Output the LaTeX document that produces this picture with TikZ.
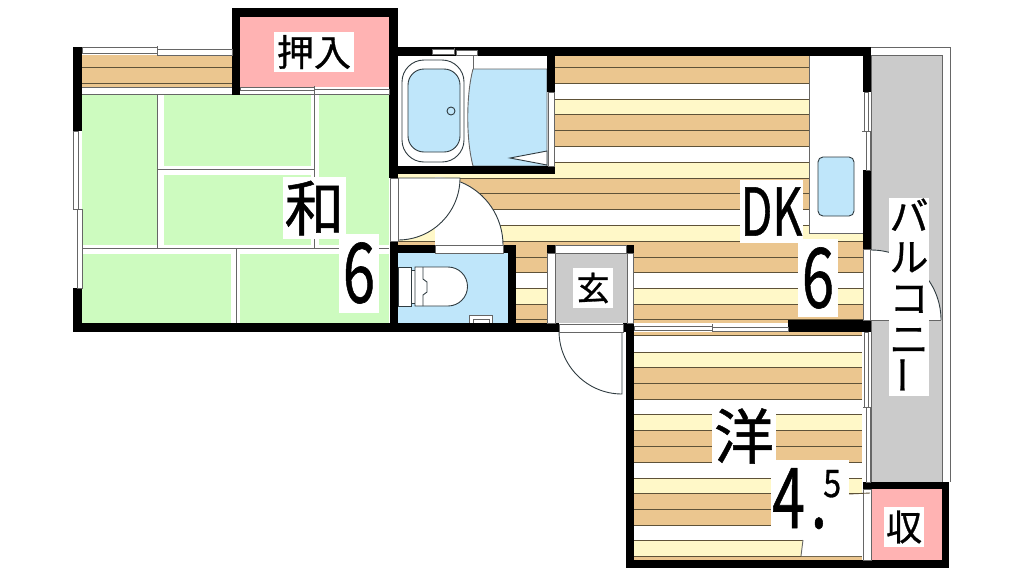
\documentclass[tikz,border=0pt]{standalone}
\usepackage{graphicx}
\usepackage{fontspec}
\setmainfont[FakeBold=0.8]{Noto Sans CJK JP}
\definecolor{woodtan}{HTML}{EBC68F}
\definecolor{woodcream}{HTML}{FFF8C8}
\definecolor{woodline}{HTML}{5E5238}
\definecolor{tatami}{HTML}{CDFBBF}
\definecolor{closetpink}{HTML}{FFB3B3}
\definecolor{waterblue}{HTML}{BFE6FA}
\definecolor{floorgray}{HTML}{CBCBCB}
\definecolor{thingray}{HTML}{666666}
\definecolor{fixline}{HTML}{2F3B40}
\newcommand{\tallnum}[1]{\scalebox{.7}[1]{#1}}
\tikzset{
  pane/.style={draw=thingray,line width=.8pt,fill=white},
  thin line/.style={draw=thingray,line width=.9pt},
  wood line/.style={draw=woodline,line width=.9pt},
  fixture/.style={draw=fixline,line width=.9pt},
  label box/.style={fill=white,inner sep=0pt,align=center},
}
\begin{document}
\begin{tikzpicture}[x=1pt,y=-1pt]
\useasboundingbox (0,0) rectangle (1024,576);
% tatami room
\fill[tatami] (82,95) rectangle (389,323);
\fill[white] (157,95) rectangle (164,248);
\fill[white] (311,95) rectangle (319,248);
\fill[white] (157,166) rectangle (314,175);
\fill[white] (82,245) rectangle (389,254);
\fill[white] (231,248) rectangle (240,323);
\draw[thin line] (157,95) -- (157,248);
\draw[thin line] (314,95) -- (314,248);
\draw[thin line] (157,169) -- (314,169);
\draw[thin line] (82,248) -- (389,248);
\draw[thin line] (236,248) -- (236,323);
\fill[woodtan] (82,55) rectangle (232,87);
\draw[wood line] (82,67) -- (232,67);
\draw[wood line] (82,83) -- (232,83);
\draw[thin line] (82,87) -- (232,87);
\draw[thin line] (82,94) -- (389,94);
% wood floor of the dining kitchen
\begin{scope}
\clip (555,56) -- (809,56) -- (809,233) -- (863,233) -- (863,323) -- (398,323) -- (398,174) -- (555,174) -- cycle;
\foreach \ya/\yb/\bandcol in {56/83/woodtan,83/99/white,99/114/woodcream,114/146/woodtan,146/162/white,162/178/woodcream,178/209/woodtan,209/225/white,225/241/woodcream,241/272/woodtan,272/288/white,288/304/woodcream,304/323/woodtan}{
  \fill[\bandcol] (398,\ya) rectangle (863,\yb);
}
\foreach \y in {67,83,99,114,130,146,162,178,193,209,225,241,257,272,288,304,319}{
  \draw[wood line] (398,\y) -- (863,\y);
}
\end{scope}
% wood floor of the lower room
\begin{scope}
\clip (634,332) rectangle (862,560);
\foreach \ya/\yb/\bandcol in {332/335/woodtan,335/352/white,352/367/woodcream,367/399/woodtan,399/414/white,414/430/woodcream,430/462/woodtan,462/478/white,478/493/woodcream,493/525/woodtan,525/540/white,540/556/woodcream,556/560/woodtan}{
  \fill[\bandcol] (634,\ya) rectangle (862,\yb);
}
\foreach \y in {335,352,367,383,399,414,430,446,462,478,493,509,525,540,556}{
  \draw[wood line] (634,\y) -- (862,\y);
}
\end{scope}
% closets
\fill[closetpink] (240,17) rectangle (389,87);
\fill[closetpink] (871,489) rectangle (942,560);
% kitchen counter and sink
\fill[white] (809,56) rectangle (863,233);
\draw[thin line] (809,56) -- (809,233) -- (863,233);
\draw[fixture,fill=waterblue,rounded corners=5pt] (818,157) rectangle (854,216);
% bath
\fill[white] (398,56) rectangle (547,166);
\draw[thin line,fill=waterblue] (473,69) -- (547,69) -- (547,166) -- (473,166) .. controls (466,140) and (466,95) .. (473,69);
\draw[thin line] (473,56) -- (473,69);
\draw[fixture,fill=white,rounded corners=22pt] (402,60) rectangle (464,162);
\draw[fixture,fill=waterblue,rounded corners=16pt] (408,69) rectangle (460,152);
\draw[fixture] (451,111) circle [radius=4pt];
\draw[fixture,fill=white] (510,158) -- (547,151) -- (547,165) -- cycle;
% toilet
\fill[waterblue] (398,253) rectangle (508,323);
\draw[fixture,fill=white] (398,267) rectangle (411,306);
\draw[fixture,fill=white] (411,270) rectangle (415,303);
\draw[fixture,fill=white] (415,267) -- (448,267) arc [start angle=90,end angle=-90,radius=19.5pt] -- (415,306) -- cycle;
\draw[fixture] (423,267) -- (423,279) -- (427,282) -- (427,292) -- (423,295) -- (423,306);
\draw[thin line,fill=white] (469,315) rectangle (492,323);
\draw[thin line] (473,323) -- (473,319) -- (489,319) -- (489,323);
% entrance
\fill[floorgray] (555,253) rectangle (627,323);
% balcony
\draw[thin line] (871,47.5) -- (950,47.5) -- (950,482);
\draw[thin line,fill=floorgray] (871,55) -- (942,55) -- (942,482) -- (871,482) -- cycle;
% doors
\fill[white] (435,245) -- (503,245) arc [start angle=0,end angle=90,radius=68pt] -- cycle;
\draw[fixture] (503,245) arc [start angle=0,end angle=68,radius=68pt];
\draw[fixture,fill=white] (460,178) arc [start angle=0,end angle=-90,radius=62pt] -- (398,178) -- cycle;
\draw[fixture,fill=white] (622,394) arc [start angle=-90,end angle=-180,radius=63pt] -- (622,332) -- cycle;
\fill[white] (871,320) -- (941,320) arc [start angle=0,end angle=90,radius=70pt] -- cycle;
\draw[fixture] (941,320) arc [start angle=0,end angle=90,radius=70pt];
\draw[thin line] (871,320) -- (941,320);
% walls
\fill (73,47) rectangle (82,131);
\fill (73,288) rectangle (82,332);
\fill (73,323) rectangle (559,332);
\fill (232,8) rectangle (398,17);
\fill (232,8) rectangle (240,95);
\fill (389,8) rectangle (398,178);
\fill (390,241) rectangle (398,332);
\fill (398,47) rectangle (871,56);
\fill (547,47) rectangle (555,92);
\fill (398,166) rectangle (555,174);
\fill (398,245) rectangle (435,253);
\fill (503,245) rectangle (516,253);
\fill (508,245) rectangle (516,323);
\fill (547,245) rectangle (555,253);
\fill (626,245) rectangle (634,253);
\fill (623,323) rectangle (634,332);
\fill (626,323) rectangle (634,568);
\fill (863,47) rectangle (871,92);
\fill (863,170) rectangle (871,249);
\fill (788,320) rectangle (871,332);
\fill (863,482) rectangle (949,489);
\fill (942,482) rectangle (949,568);
\fill (626,560) rectangle (949,568);
% windows and door sills
\foreach \xa/\ya/\xb/\yb in {82/47.5/157/53,157/49/232/55,73.5/131/78/209,77.5/209/82/288,432/49/454/54,456/50/477/55,240/87/314/90,314/89/389/94,634/326/712/330,712/327/788/331,864/92/868/131,866/131/870/170,863/249/870/320,864/332/868/407,866/407/870/482,390/178/398/241,548/92/554/166,435/245/503/253,555/245/626/253,547/253/555/323,627/253/633/323,559/324/623/332,863/489/871/560}{
  \draw[pane] (\xa,\ya) rectangle (\xb,\yb);
}
\foreach \xa/\ya/\xb/\yb in {157/46/157/56,314/86/314/95,454/48/454/55,712/324/712/332,73/209/82/209,862/131/871/131,863/407/871/407}{
  \draw[thin line] (\xa,\ya) -- (\xb,\yb);
}
% white patches behind the 4.5
\fill[white] (771,460) rectangle (849,496);
\fill[white] (771,494) rectangle (862,540);
\fill[white] (803,539) -- (862,539) -- (862,556) -- (801,556) -- cycle;
\draw[thin line] (803,540) -- (801,556);
\draw[wood line] (849,494) -- (870,493);
% labels
\node[label box,font=\fontsize{37}{37}\selectfont,minimum width=80pt,minimum height=40pt] (oshiire) at (314,52) {押入};
\node[label box,font=\fontsize{60}{60}\selectfont,minimum width=63pt,minimum height=62pt] (wa) at (314.5,208) {和};
\node[label box,font=\fontsize{83}{83}\selectfont,minimum width=40pt,minimum height=79pt] (waSize) at (359,273) {\tallnum{6}};
\node[label box,font=\fontsize{66}{66}\selectfont,minimum width=63pt,minimum height=63pt] (dk) at (771.5,211.5) {\tallnum{DK}};
\node[label box,font=\fontsize{83}{83}\selectfont,minimum width=40pt,minimum height=78pt] (dkSize) at (818,278) {\tallnum{6}};
\node[label box,font=\fontsize{33}{33}\selectfont,minimum width=40pt,minimum height=40pt] (genkan) at (593,288) {玄};
\node[label box,font=\fontsize{39}{41}\selectfont,minimum width=40pt,minimum height=198pt] (balcony) at (909,296.5) {バ\\ル\\コ\\ニ\\\rotatebox{90}{ー}};
\node[label box,font=\fontsize{60}{60}\selectfont,minimum width=64pt,minimum height=60pt] (yo) at (744,436) {洋};
\node[inner sep=0pt,font=\fontsize{84}{84}\selectfont,anchor=base west] (yoSize) at (772,528) {\tallnum{4\kern.1em.}};
\node[inner sep=0pt,font=\fontsize{38}{38}\selectfont,anchor=base west] (yoSizeFrac) at (823,497) {\scalebox{.85}[1]{5}};
\node[label box,font=\fontsize{36}{36}\selectfont,minimum width=40pt,minimum height=40pt] (shu) at (904,527) {収};
\end{tikzpicture}
\end{document}
